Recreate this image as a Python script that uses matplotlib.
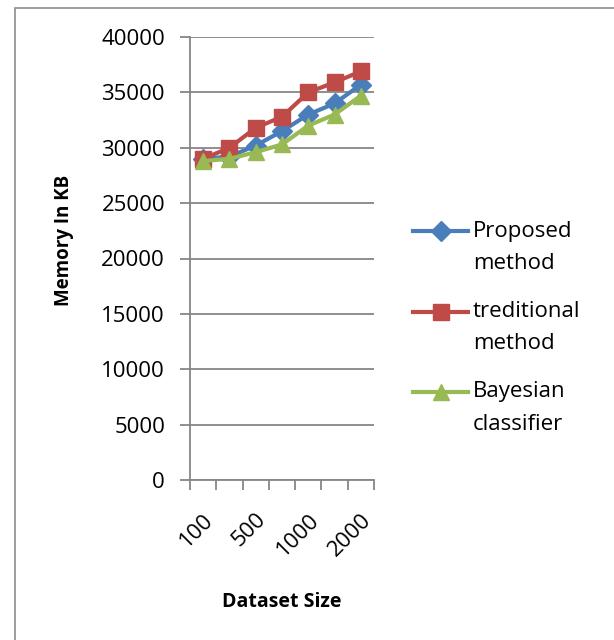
import numpy as np
import matplotlib.pyplot as plt
from matplotlib.patches import Rectangle
from matplotlib.lines import Line2D

plt.rcParams['font.family'] = ['Open Sans', 'DejaVu Sans']

# dataset sizes (every other one is labelled on the axis)
sizes = ['100', '300', '500', '700', '1000', '1500', '2000']
proposed = [29000, 29200, 30200, 31500, 33000, 34000, 35700]
traditional = [29000, 30000, 31800, 32800, 35000, 35900, 36900]
bayesian = [28800, 29000, 29600, 30300, 32000, 33000, 34700]

labels = ['Proposed\nmethod', 'treditional\nmethod', 'Bayesian\nclassifier']
colors = ['#4a7ebb', '#be4b48', '#98b954']
markers = ['D', 's', '^']
msizes = [10.5, 12, 12]

W, H = 614, 640
fig = plt.figure(figsize=(W / 100, H / 100), dpi=100)
fig.patches.append(Rectangle((15 / W, -0.1), 1.2, 1 - 8 / H + 0.1,
                             transform=fig.transFigure, fill=False,
                             edgecolor='#8c8c8c', linewidth=1.2))

ax = fig.add_axes([190 / W, 1 - 480 / H, 184 / W, 443 / H])
x = np.arange(len(sizes))
for ys, c, m, ms in zip([proposed, traditional, bayesian], colors, markers, msizes):
    ax.plot(x, ys, color=c, lw=3, marker=m, markersize=ms)

ax.set_xlim(-0.5, len(sizes) - 0.5)
ax.set_ylim(0, 40000)
ax.set_yticks(np.arange(0, 40001, 5000))
ax.yaxis.grid(True, color='#868686', lw=1.3)
ax.set_axisbelow(True)

ax.set_xticks(x[::2])
ax.set_xticklabels(sizes[::2], rotation=45, ha='right', rotation_mode='anchor', fontsize=16)
ax.set_xticks(np.arange(-0.5, len(sizes)), minor=True)
ax.tick_params(axis='x', which='major', length=0, pad=21)
ax.tick_params(axis='x', which='minor', length=7, color='#868686', width=1.3)
ax.tick_params(axis='y', length=7, color='#868686', width=1.3, labelsize=16, pad=11)

for s in ['top', 'right']:
    ax.spines[s].set_visible(False)
for s in ['left', 'bottom']:
    ax.spines[s].set_color('#868686')
    ax.spines[s].set_linewidth(1.3)

ax.set_ylabel('Memory In KB', fontsize=13.5, fontweight='bold', va='center')
ax.yaxis.set_label_coords(-0.685, 0.54)
ax.set_xlabel('Dataset Size', fontsize=14, fontweight='bold', va='center')
ax.xaxis.set_label_coords(0.5, -0.275)

# legend: handle sits on the first line of each two-line label
for i, (lab, c, m, ms) in enumerate(zip(labels, colors, markers, msizes)):
    yc = 1 - (231 + 80.5 * i) / H
    fig.add_artist(Line2D([413 / W, 468 / W], [yc, yc], color=c, lw=3,
                          transform=fig.transFigure))
    fig.add_artist(Line2D([440.5 / W], [yc], color=c, marker=m, markersize=ms,
                          transform=fig.transFigure))
    for j, part in enumerate(lab.split('\n')):
        fig.text(473 / W, yc - j * 32 / H, part, fontsize=16, va='center', ha='left')

fig.savefig('out.png', dpi=100)
